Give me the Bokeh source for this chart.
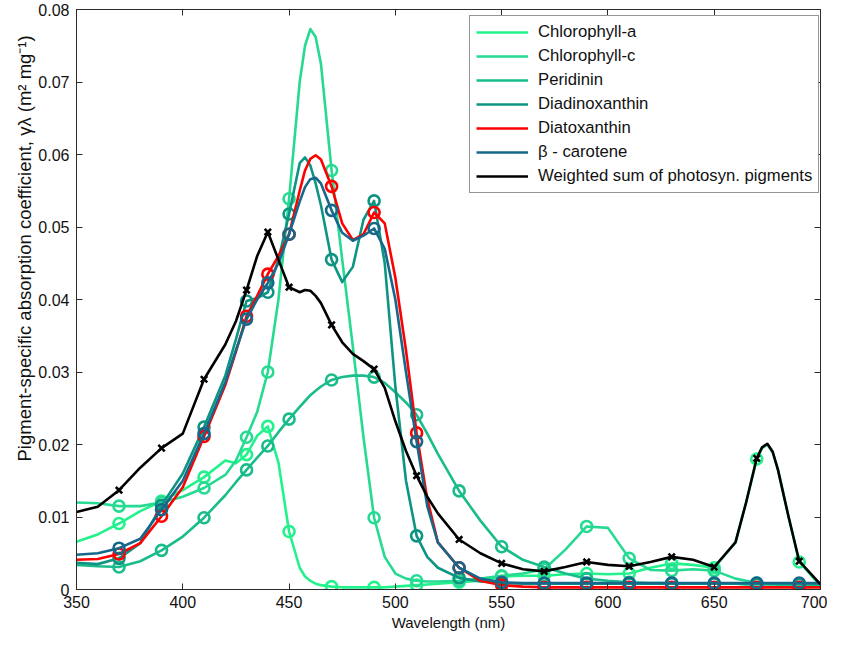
from bokeh.plotting import figure
from bokeh.models import (Range1d, LinearAxis, Legend, LegendItem, FixedTicker, Title)
from bokeh.embed import file_html
from bokeh.resources import INLINE

# Wavelength grid (nm)
WL = [350, 360, 370, 380, 390, 400, 410, 420,
      425, 430, 435, 440, 445, 450, 455,
      457.5, 460, 462.5, 465, 470,
      475, 480, 485, 490, 495, 500, 505, 510, 515, 520,
      530, 540, 550, 560, 570, 580, 590, 600, 610, 620, 630, 640, 650, 660,
      665, 670, 672.5, 675, 677.5, 680, 685, 690, 700]

CHL_A = [.0066, .0076, .0091, .0108, .0122, .0137, .0155, .0178,
         .0174, .0186, .0212, .0225, .0175, .0080, .0030,
         .0018, .0012, .0008, .0006, .0004,
         .0003, .0003, .0003, .0003, .0003, .0004, .0005, .0006, .0007, .0008,
         .0010, .0012, .0018, .0019, .0019, .0021, .0022, .0021, .0022, .0030, .0036, .0034, .0030, .0065,
         .0120, .0180, .0195, .0200, .0189, .0165, .0100, .0038, .0005]

CHL_C = [.0120, .0119, .0115, .0115, .0120, .0128, .0140, .0158,
         .0178, .0210, .0245, .0300, .0400, .0539, .0700,
         .0750, .0773, .0762, .0725, .0578,
         .0455, .0335, .0210, .0099, .0045, .0022, .0015, .0012, .0011, .0011,
         .0012, .0015, .0019, .0022, .0028, .0055, .0087, .0085, .0043, .0027, .0026, .0028, .0026, .0015,
         .0012, .0009, .0008, .0008, .0008, .0007, .0007, .0007, .0006]

PERIDININ = [.0034, .0032, .0031, .0039, .0054, .0073, .0099, .0130,
             .0148, .0165, .0182, .0198, .0217, .0235, .0252,
             .0260, .0268, .0274, .0280, .0289,
             .0293, .0295, .0295, .0293, .0285, .0272, .0258, .0241, .0215, .0187,
             .0136, .0095, .0059, .0041, .0031, .0022, .0015, .0012, .0010, .0009, .0009, .0008, .0008, .0008,
             .0007, .0007, .0007, .0007, .0007, .0007, .0007, .0007, .0007]

DIADINO = [.0037, .0035, .0043, .0064, .0116, .0160, .0224, .0295,
           .0345, .0398, .0402, .0410, .0455, .0518, .0588,
           .0596, .0585, .0560, .0530, .0455,
           .0424, .0445, .0510, .0536, .0450, .0280, .0150, .0074, .0045, .0030,
           .0016, .0011, .0009, .0008, .0008, .0008, .0008, .0008, .0008, .0008, .0008, .0008, .0008, .0008,
           .0008, .0008, .0008, .0008, .0008, .0008, .0008, .0008, .0008]

DIATO = [.0041, .0042, .0049, .0064, .0101, .0141, .0211, .0282,
         .0328, .0377, .0405, .0435, .0460, .0490, .0550,
         .0578, .0594, .0599, .0593, .0556,
         .0505, .0482, .0490, .0520, .0505, .0430, .0330, .0216, .0125, .0065,
         .0030, .0012, .0006, .0004, .0003, .0003, .0003, .0003, .0003, .0003, .0003, .0003, .0003, .0003,
         .0003, .0003, .0003, .0003, .0003, .0003, .0003, .0003, .0003]

BETA_CAR = [.0048, .0050, .0057, .0070, .0110, .0150, .0215, .0286,
            .0330, .0373, .0400, .0423, .0450, .0490, .0535,
            .0555, .0566, .0568, .0560, .0523,
            .0492, .0481, .0488, .0498, .0470, .0400, .0300, .0204, .0115, .0065,
            .0030, .0015, .0010, .0009, .0009, .0009, .0009, .0009, .0009, .0009, .0009, .0009, .0009, .0009,
            .0009, .0009, .0009, .0009, .0009, .0009, .0009, .0009, .0009]

WEIGHTED = [.0107, .0114, .0137, .0168, .0195, .0215, .0290, .0338,
            .0370, .0413, .0460, .0493, .0455, .0417, .0410,
            .0413, .0412, .0405, .0395, .0365,
            .0341, .0325, .0315, .0304, .0278, .0232, .0191, .0157, .0128, .0105,
            .0069, .0050, .0036, .0028, .0025, .0031, .0038, .0034, .0032, .0038, .0045, .0041, .0031, .0065,
            .0120, .0181, .0196, .0201, .0190, .0165, .0100, .0039, .0007]

MARKER_WL = [370, 390, 410, 430, 440, 450, 470, 490, 510, 530, 550, 570, 590, 610,
             630, 650, 670, 690]

NAMES = ["Chlorophyll-a", "Chlorophyll-c", "Peridinin", "Diadinoxanthin",
         "Diatoxanthin", "\u03b2 - carotene", "Weighted sum of photosyn. pigments"]
COLORS = ["#22F28C", "#26DA92", "#19BC8A", "#0E9482", "#FF0000", "#16688A", "#000000"]
MARKERS = ["circle", "circle", "circle", "circle", "circle", "circle", "x"]

X_TICKS = [350, 400, 450, 500, 550, 600, 650, 700]
Y_TICKS = [0, 0.01, 0.02, 0.03, 0.04, 0.05, 0.06, 0.07, 0.08]
Y_TICK_LABELS = ["0", "0.01", "0.02", "0.03", "0.04", "0.05", "0.06", "0.07", "0.08"]
X_LABEL = "Wavelength (nm)"
Y_LABEL = "Pigment-specific absorption coefficient, \u03b3\u03bb (m\u00b2 mg\u207b\u00b9)"

SERIES = [CHL_A, CHL_C, PERIDININ, DIADINO, DIATO, BETA_CAR, WEIGHTED]

FONT = "Liberation Sans"
AX_COLOR = "#2b2b2b"

p = figure(width=827, height=634, output_backend="svg", toolbar_location=None,
           x_range=Range1d(350, 700), y_range=Range1d(0, 0.08),
           min_border_left=76, min_border_right=7, min_border_top=9,
           min_border_bottom=45)
p.xgrid.visible = False
p.ygrid.visible = False
p.outline_line_color = AX_COLOR
p.outline_line_width = 1
p.background_fill_color = "white"
p.border_fill_color = "white"

items = []
mset = set(MARKER_WL)
for vals, name, col, mk in zip(SERIES, NAMES, COLORS, MARKERS):
    r = p.line(WL, vals, line_color=col, line_width=2.6, line_join="round")
    mx = [w for w in WL if w in mset]
    my = [v for w, v in zip(WL, vals) if w in mset]
    if mk == "x":
        p.scatter(mx, my, marker="x", size=9, line_color=col, line_width=2.6)
    else:
        p.scatter(mx, my, marker="circle", size=11, fill_color=None,
                  line_color=col, line_width=2.6)
    items.append(LegendItem(label=name, renderers=[r]))


def style_axis(ax, labels=True):
    ax.axis_line_color = AX_COLOR
    ax.major_tick_line_color = AX_COLOR
    ax.major_tick_in = 6
    ax.major_tick_out = 0
    ax.minor_tick_line_color = None
    ax.major_label_text_font = FONT
    ax.major_label_text_color = "#111111"
    ax.major_label_text_font_size = "16px"
    ax.axis_label_text_font = FONT
    ax.axis_label_text_font_style = "normal"
    ax.axis_label_text_font_size = "15px"
    ax.axis_label_text_color = "#111111"
    if not labels:
        ax.major_label_text_font_size = "0px"
        ax.major_label_standoff = 0


xa = p.xaxis[0]
xa.ticker = FixedTicker(ticks=X_TICKS)
xa.axis_label = X_LABEL
style_axis(xa)
xa.major_label_standoff = 6
xa.axis_label_standoff = 3

ya = p.yaxis[0]
ya.ticker = FixedTicker(ticks=Y_TICKS)
ya.major_label_overrides = {t: l for t, l in zip(Y_TICKS, Y_TICK_LABELS)}
style_axis(ya)
ya.major_label_standoff = 7

top = LinearAxis(ticker=FixedTicker(ticks=X_TICKS))
style_axis(top, labels=False)
p.add_layout(top, "above")
right = LinearAxis(ticker=FixedTicker(ticks=Y_TICKS))
style_axis(right, labels=False)
p.add_layout(right, "right")

# y title as a side title so that it can start low on the axis like the original
ytitle = Title(text=Y_LABEL, align="left", offset=128, vertical_align="middle",
               standoff=0, text_font=FONT, text_font_size="18.5px",
               text_font_style="normal", text_color="#111111")
p.add_layout(ytitle, "left")

leg = Legend(items=items, location=(393, 396))
leg.label_text_font = FONT
leg.label_text_font_size = "16.7px"
leg.label_text_color = "#111111"
leg.glyph_width = 52
leg.glyph_height = 20
leg.label_height = 20
leg.spacing = 4
leg.padding = 6
leg.margin = 0
leg.label_standoff = 10
leg.border_line_color = AX_COLOR
leg.border_line_width = 1
leg.background_fill_alpha = 1
p.add_layout(leg)

open("out.html", "w").write(file_html(p, INLINE))
